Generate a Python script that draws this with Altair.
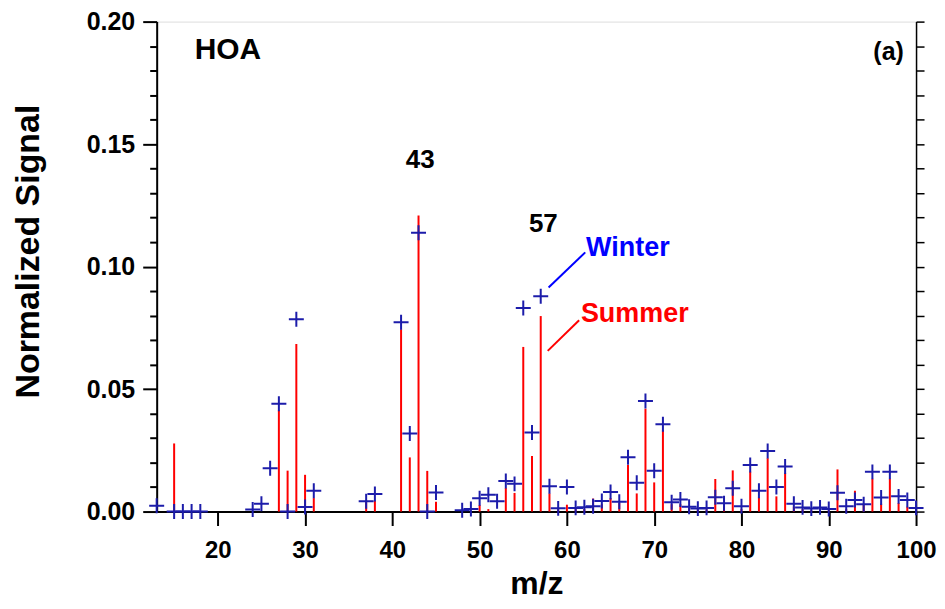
import altair as alt
import pandas as pd

# ---------------- data ----------------
mz_summer = [15, 27, 28, 29, 30, 31, 37, 38, 41, 42, 43, 44, 45, 50, 51,
             53, 54, 55, 56, 57, 58, 59, 60, 61, 62, 63, 64, 65, 66, 67, 68, 69, 70,
             71, 72, 73, 74, 75, 76, 77, 78, 79, 80, 81, 82, 83, 84, 85, 86, 87, 88,
             89, 90, 91, 92, 93, 94, 95, 96, 97, 98, 99, 100]
summer = [0.0278, 0.0413, 0.0167, 0.0684, 0.0150, 0.0055, 0.0045, 0.0045, 0.0744, 0.0221,
          0.1209, 0.0166, 0.0040, 0.0027, 0.0010,
          0.0096, 0.0076, 0.0672, 0.0227, 0.0798, 0.0074, 0.0010, 0.0028, 0.0010, 0.0010,
          0.0053, 0.0030, 0.0055, 0.0035, 0.0190, 0.0074, 0.0420, 0.0119,
          0.0332, 0.0030, 0.0030, 0.0015, 0.0010, 0.0010, 0.0133, 0.0020, 0.0168, 0.0010,
          0.0163, 0.0058, 0.0218, 0.0062, 0.0157, 0.0020, 0.0010, 0.0005,
          0.0010, 0.0005, 0.0172, 0.0010, 0.0085, 0.0030, 0.0134, 0.0032, 0.0134, 0.0035,
          0.0020, 0.0010]

mz_winter = [13, 15, 16, 17, 18, 24, 25, 26, 27, 28, 29, 30, 31, 37, 38, 41, 42, 43, 44, 45,
             48, 49, 50, 51, 52, 53, 54, 55, 56, 57, 58, 59, 60, 61, 62, 63, 64, 65, 66,
             67, 68, 69, 70, 71, 72, 73, 74, 75, 76, 77, 78, 79, 80, 81, 82, 83, 84, 85,
             86, 87, 88, 89, 90, 91, 92, 93, 94, 95, 96, 97, 98, 99, 100]
winter = [0.0024, 0.0000, 0.0000, 0.0000, 0.0000, 0.0008, 0.0032, 0.0177, 0.0440, 0.0000,
          0.0785, 0.0019, 0.0085, 0.0042, 0.0072, 0.0773, 0.0319, 0.1138, 0.0000, 0.0078,
          0.0005, 0.0010, 0.0054, 0.0069, 0.0042, 0.0125, 0.0113, 0.0831, 0.0323, 0.0879,
          0.0103, 0.0013, 0.0100, 0.0015, 0.0018, 0.0022, 0.0043, 0.0080, 0.0040,
          0.0222, 0.0118, 0.0451, 0.0167, 0.0356, 0.0038, 0.0049, 0.0020, 0.0012, 0.0015,
          0.0058, 0.0034, 0.0095, 0.0022, 0.0190, 0.0085, 0.0247, 0.0100, 0.0184,
          0.0032, 0.0017, 0.0012, 0.0017, 0.0010, 0.0077, 0.0022, 0.0047, 0.0030, 0.0162,
          0.0057, 0.0162, 0.0062, 0.0047, 0.0015]

x_ticks = [20, 30, 40, 50, 60, 70, 80, 90, 100]
y_ticks = [round(i * 0.01, 2) for i in range(0, 21)]

# annotations (position in data units)
label_text = ["43", "57"]
label_x = [43.2, 57.3]
label_y = [0.1433, 0.1174]

legend_text = ["Winter", "Summer"]
legend_color = ["#0000ff", "#ff0000"]
legend_x = [62.2, 61.6]
legend_y = [0.1077, 0.0806]

leader_x = [57.9, 57.8]
leader_y = [0.0915, 0.0656]
leader_x2 = [62.1, 61.4]
leader_y2 = [0.1058, 0.0781]

FONT = "Liberation Sans"
RED = "#ff0000"
NAVY = "#1c1caa"

summer_df = pd.DataFrame({"mz": mz_summer, "v": summer})
winter_df = pd.DataFrame({"mz": mz_winter, "v": winter})

xscale = alt.Scale(domain=[13, 100], nice=False, zero=False)
yscale = alt.Scale(domain=[0, 0.2], nice=False, zero=True)

major = "round(datum.value*100) % 5 === 0"

x_axis = alt.Axis(values=x_ticks, orient="bottom", tickSize=14, tickWidth=2, tickColor="black",
                  labelFont=FONT, labelFontWeight="bold", labelFontSize=24, labelColor="black",
                  labelPadding=13, labelFlush=False,
                  title="m/z", titleFont=FONT, titleFontWeight="bold", titleFontSize=32,
                  titleColor="black", titlePadding=6,
                  domainColor="black", domainWidth=2, grid=False)

y_axis_left = alt.Axis(values=y_ticks, orient="left",
                       tickSize={"condition": {"test": major, "value": 14}, "value": 7},
                       tickWidth=2, tickColor="black",
                       labelExpr=major + " ? format(datum.value, '.2f') : ''",
                       labelFont=FONT, labelFontWeight="bold", labelFontSize=25,
                       labelColor="black", labelPadding=8, labelOverlap=False, labelFlush=False,
                       title="Normalized Signal", titleFont=FONT, titleFontWeight="bold",
                       titleFontSize=34, titleColor="black", titlePadding=41, titleY=230,
                       domainColor="black", domainWidth=2, grid=False)

y_axis_right = alt.Axis(values=y_ticks, orient="right", tickSize=8, tickWidth=1.5,
                        tickColor="black", labels=False, title=None,
                        domainColor="black", domainWidth=1.5, grid=False)


def X(field):
    return alt.X(field, scale=xscale, axis=x_axis)


rules = alt.Chart(summer_df).mark_rule(color=RED, strokeWidth=2).encode(
    x=X("mz:Q"),
    y=alt.Y("v:Q", scale=yscale, axis=y_axis_left),
    y2=alt.datum(0),
)

points = alt.Chart(winter_df).mark_point(
    shape="M-1,0L1,0M0,-1L0,1", filled=False, size=225, strokeWidth=2,
    color=NAVY, opacity=1,
).encode(
    x=X("mz:Q"),
    y=alt.Y("v:Q", scale=yscale, axis=y_axis_right),
)

leader_df = pd.DataFrame({"mz": leader_x, "v": leader_y, "x2": leader_x2, "y2": leader_y2,
                          "c": legend_color})
leaders = alt.Chart(leader_df).mark_rule(strokeWidth=2).encode(
    x=X("mz:Q"),
    x2="x2:Q",
    y=alt.Y("v:Q", scale=yscale, axis=None),
    y2="y2:Q",
    color=alt.Color("c:N", scale=None),
)

legend_df = pd.DataFrame({"t": legend_text, "mz": legend_x, "v": legend_y, "c": legend_color})
legend_txt = alt.Chart(legend_df).mark_text(
    align="left", baseline="middle", font=FONT, fontWeight="bold", fontSize=27,
).encode(
    x=X("mz:Q"),
    y=alt.Y("v:Q", scale=yscale, axis=None),
    text="t:N",
    color=alt.Color("c:N", scale=None),
)

peak_df = pd.DataFrame({"t": label_text, "mz": label_x, "v": label_y})
peak_txt = alt.Chart(peak_df).mark_text(
    align="center", baseline="middle", font=FONT, fontWeight="bold", fontSize=26, color="black",
).encode(
    x=X("mz:Q"),
    y=alt.Y("v:Q", scale=yscale, axis=None),
    text="t:N",
)

hoa_df = pd.DataFrame({"t": ["HOA"], "mz": [17.35], "v": [0.1882]})
hoa_txt = alt.Chart(hoa_df).mark_text(
    align="left", baseline="middle", font=FONT, fontWeight="bold", fontSize=30, color="black",
).encode(
    x=X("mz:Q"),
    y=alt.Y("v:Q", scale=yscale, axis=None),
    text="t:N",
)

a_df = pd.DataFrame({"t": ["(a)"], "mz": [98.6], "v": [0.1874]})
a_txt = alt.Chart(a_df).mark_text(
    align="right", baseline="middle", font=FONT, fontWeight="bold", fontSize=25, color="black",
).encode(
    x=X("mz:Q"),
    y=alt.Y("v:Q", scale=yscale, axis=None),
    text="t:N",
)

chart = alt.layer(rules, points, leaders, legend_txt, peak_txt, hoa_txt, a_txt).resolve_scale(
    y="shared", x="shared"
).resolve_axis(y="independent", x="shared").properties(
    width=761, height=491,
    autosize=alt.AutoSizeParams(type="none"),
    padding={"left": 149, "top": 13, "right": 21, "bottom": 89},
    background="white",
).configure_view(stroke="black", strokeWidth=1.5).configure(font=FONT)

chart.save("out.html", embed_options={"renderer": "svg", "actions": False})
